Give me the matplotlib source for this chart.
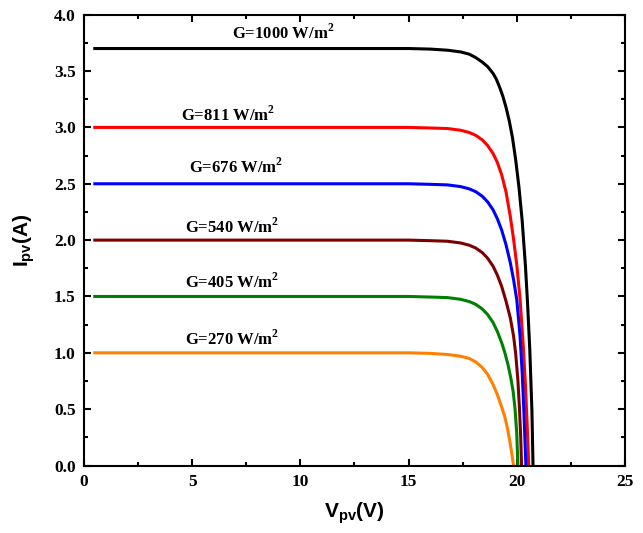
import numpy as np
import matplotlib.pyplot as plt
from matplotlib.ticker import MultipleLocator, FormatStrFormatter

plt.rcParams['font.family'] = ['Liberation Serif', 'DejaVu Serif']
plt.rcParams['font.weight'] = 'bold'
plt.rcParams['mathtext.fontset'] = 'custom'
plt.rcParams['mathtext.rm'] = 'Liberation Serif:bold'
plt.rcParams['mathtext.bf'] = 'Liberation Serif:bold'
plt.rcParams['mathtext.sf'] = 'Liberation Sans:bold'

# I-V curves
v_1000 = [0.5, 5, 10, 15, 16.0, 16.8, 17.4, 17.8, 18.1, 18.4, 18.65, 18.9, 19.05, 19.2, 19.35, 19.5, 19.65, 19.8, 19.95, 20.1, 20.25, 20.4, 20.5, 20.6, 20.7, 20.75]
i_1000 = [3.70, 3.70, 3.70, 3.70, 3.695, 3.685, 3.67, 3.65, 3.62, 3.58, 3.54, 3.48, 3.43, 3.36, 3.28, 3.18, 3.06, 2.91, 2.71, 2.47, 2.17, 1.77, 1.43, 1.03, 0.48, 0.0]

v_811 = [0.5, 5, 10, 15, 16.0, 16.8, 17.4, 17.8, 18.1, 18.4, 18.65, 18.9, 19.1, 19.3, 19.5, 19.7, 19.85, 20.0, 20.15, 20.3, 20.4, 20.48, 20.55]
i_811 = [3.00, 3.00, 3.00, 3.00, 2.995, 2.99, 2.975, 2.955, 2.93, 2.89, 2.84, 2.77, 2.69, 2.58, 2.43, 2.21, 2.01, 1.78, 1.48, 1.06, 0.71, 0.36, 0.0]

v_676 = [0.5, 5, 10, 15, 16.0, 16.8, 17.4, 17.8, 18.1, 18.4, 18.65, 18.9, 19.1, 19.3, 19.5, 19.7, 19.85, 20.0, 20.15, 20.25, 20.33, 20.42]
i_676 = [2.50, 2.50, 2.50, 2.50, 2.495, 2.49, 2.475, 2.455, 2.43, 2.39, 2.34, 2.27, 2.19, 2.09, 1.96, 1.80, 1.65, 1.47, 1.15, 0.82, 0.47, 0.0]

v_540 = [0.5, 5, 10, 15, 16.0, 16.8, 17.4, 17.8, 18.1, 18.4, 18.65, 18.9, 19.1, 19.3, 19.5, 19.7, 19.85, 19.95, 20.05, 20.12, 20.18, 20.22]
i_540 = [2.00, 2.00, 2.00, 2.00, 1.995, 1.99, 1.975, 1.955, 1.93, 1.89, 1.84, 1.77, 1.69, 1.59, 1.46, 1.31, 1.15, 0.99, 0.76, 0.52, 0.26, 0.0]

v_405 = [0.5, 5, 10, 15, 16.0, 16.8, 17.4, 17.8, 18.1, 18.4, 18.65, 18.9, 19.1, 19.3, 19.45, 19.6, 19.72, 19.83, 19.92, 20.0, 20.05]
i_405 = [1.50, 1.50, 1.50, 1.50, 1.495, 1.49, 1.475, 1.455, 1.43, 1.39, 1.34, 1.27, 1.19, 1.09, 1.00, 0.89, 0.78, 0.66, 0.50, 0.28, 0.0]

v_270 = [0.5, 5, 10, 15, 16.0, 16.8, 17.4, 17.8, 18.1, 18.4, 18.65, 18.9, 19.1, 19.3, 19.45, 19.58, 19.7, 19.79, 19.85]
i_270 = [1.00, 1.00, 1.00, 1.00, 0.995, 0.985, 0.97, 0.95, 0.92, 0.87, 0.81, 0.72, 0.63, 0.52, 0.43, 0.32, 0.19, 0.08, 0.0]

labels = ['G=1000 W/m$^2$', 'G=811 W/m$^2$', 'G=676 W/m$^2$',
          'G=540 W/m$^2$', 'G=405 W/m$^2$', 'G=270 W/m$^2$']
label_x = [9.2, 6.65, 7.05, 6.85, 6.85, 6.85]
label_y = [3.84, 3.11, 2.65, 2.12, 1.63, 1.12]
colors = ['#000000', '#FF0000', '#0000FF', '#7B0000', '#008000', '#FF8000']

curves = [(v_1000, i_1000), (v_811, i_811), (v_676, i_676),
          (v_540, i_540), (v_405, i_405), (v_270, i_270)]

fig = plt.figure(figsize=(6.43, 5.33), dpi=100)
ax = fig.add_axes([0.1306, 0.1266, 0.8414, 0.8458])

for (v, i), c in zip(curves, colors):
    ax.plot(v, i, color=c, lw=2.2, solid_joinstyle='round')

for x, y, t in zip(label_x, label_y, labels):
    ax.text(x, y, t, ha='center', va='center', fontsize=12, fontweight='bold')

ax.set_xlim(0, 25)
ax.set_ylim(0, 4.0)
ax.xaxis.set_major_locator(MultipleLocator(5))
ax.xaxis.set_minor_locator(MultipleLocator(2.5))
ax.yaxis.set_major_locator(MultipleLocator(0.5))
ax.yaxis.set_minor_locator(MultipleLocator(0.25))
ax.yaxis.set_major_formatter(FormatStrFormatter('%.1f'))
ax.tick_params(which='both', direction='in', top=True, right=True, width=1.5, labelsize=12.5)
ax.tick_params(which='major', length=5, pad=6)
ax.tick_params(which='minor', length=3)
for s in ax.spines.values():
    s.set_linewidth(1.5)

ax.set_xlabel(r'$\mathsf{V_{pv}(V)}$', fontsize=15, labelpad=8)
ax.set_ylabel(r'$\mathsf{I_{pv}(A)}$', fontsize=15, labelpad=12)

fig.savefig('out.png', dpi=100)
